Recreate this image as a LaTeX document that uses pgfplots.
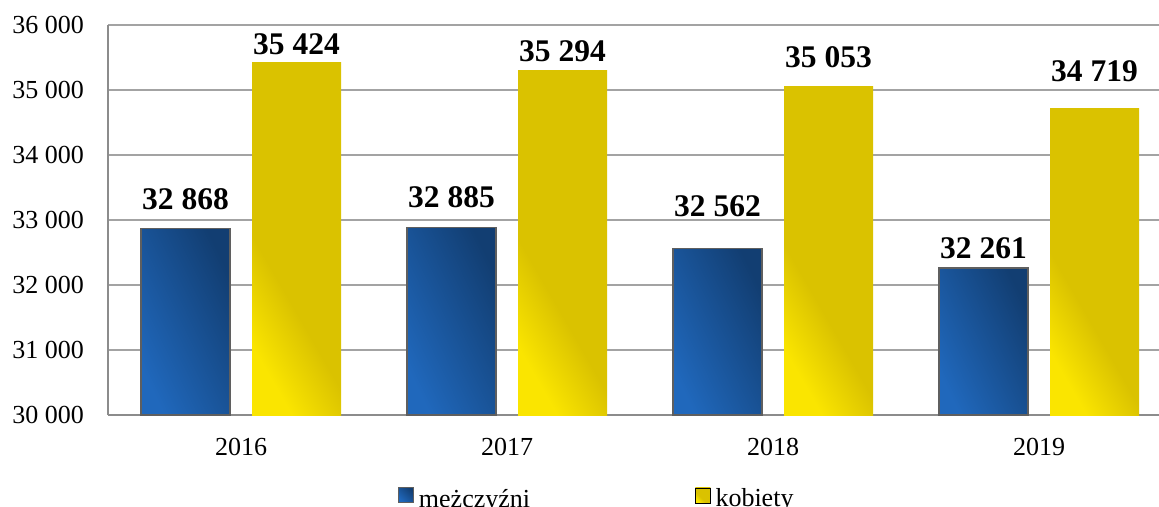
\documentclass[border=0pt]{standalone}
\usepackage{fontspec}
\setmainfont{Liberation Serif}
\usepackage{pgfplots}
\usepackage{pgfplotstable}
\pgfplotsset{compat=1.18}
\definecolor{bluelight}{HTML}{2068BC}
\definecolor{bluedark}{HTML}{123E72}
\definecolor{yellight}{HTML}{FAE500}
\definecolor{yeldark}{HTML}{DAC200}
\definecolor{gridgray}{HTML}{A3A3A3}
\definecolor{axisgray}{HTML}{8C8C8C}
\definecolor{bordergray}{HTML}{5F5F5F}

\pgfdeclareverticalshading{yelsh}{100bp}{color(0bp)=(yeldark); color(60bp)=(yeldark); color(75bp)=(yellight); color(100bp)=(yellight)}
\pgfdeclareverticalshading{blush}{100bp}{color(0bp)=(bluedark); color(25bp)=(bluedark); color(75bp)=(bluelight); color(100bp)=(bluelight)}

\pgfplotstableread{
x y dy
0 32868 19
1 32885 20
2 32562 32
3 32261 10
}\men
\pgfplotstableread{
x y dy
0 35424 8
1 35294 9
2 35053 19
3 34719 27
}\women

\pgfkeys{/pgf/number format/.cd,1000 sep={\ },assume math mode=true}

\begin{document}
\begin{tikzpicture}
\useasboundingbox (0,0) rectangle (1159pt,506pt);
\begin{axis}[
  at={(108pt,91pt)}, anchor=south west,
  scale only axis, width=1051pt, height=390pt,
  xmin=-0.5, xmax=3.451, ymin=0, ymax=6000,
  ytick={0,1000,2000,3000,4000,5000,6000},
  scaled y ticks=false,
  yticklabels={\textrm{30 000},\textrm{31 000},\textrm{32 000},\textrm{33 000},\textrm{34 000},\textrm{35 000},\textrm{36 000}},
  xtick={0,1,2,3}, xticklabels={2016,2017,2018,2019},
  axis x line*=bottom, axis y line*=left,
  axis line style={draw=axisgray, line width=1.3pt},
  ymajorgrids, grid style={draw=gridgray, line width=1.3pt},
  major tick length=0pt,
  tick label style={font=\fontsize{26}{30}\selectfont},
  yticklabel style={anchor=east, inner sep=0pt, xshift=-24pt},
  xticklabel style={anchor=north, inner sep=0pt, yshift=-23pt},
  legend style={draw=none, fill=none, inner sep=0pt,
    at={(0.2759,-0.2454)}, anchor=south west,
    font=\fontsize{26}{30}\selectfont,
    /tikz/every even column/.append style={column sep=163pt}},
  legend columns=2,
  menbar/.style={ybar, bar width=89pt, bar shift=-55.5pt,
    shading=blush, shading angle=116,
    draw=bordergray, line width=1.5pt},
  wombar/.style={ybar, bar width=89pt, bar shift=55.5pt,
    shading=yelsh, shading angle=120, draw=none},
  labels/.style={nodes near coords, point meta=explicit,
    visualization depends on={\thisrow{dy} \as \dy},
    every node near coord/.append style={anchor=base, inner sep=0pt,
      yshift=\dy pt, xshift=#1, text=black,
      font=\bfseries\fontsize{31.5}{36}\selectfont}},
]
\pgfplotsinvokeforeach{0,1,2,3}{
  \addplot[menbar, labels=-55.5pt, forget plot, x filter/.expression={abs(x-#1)<0.1 ? x : nan}]
    table[x=x, y expr=\thisrow{y}-30000, meta=y] {\men};
  \addplot[wombar, labels=55.5pt, forget plot, x filter/.expression={abs(x-#1)<0.1 ? x : nan}]
    table[x=x, y expr=\thisrow{y}-30000, meta=y] {\women};
}
\addlegendimage{legend image code/.code={\path[shading=blush,shading angle=135,draw=bordergray,line width=1.2pt] (0pt,-4pt) rectangle (15pt,11pt); \path (18pt,0pt);}}
\addlegendentry{mężczyźni}
\addlegendimage{legend image code/.code={\path[shading=yelsh,shading angle=135] (0pt,-4pt) rectangle (15pt,11pt); \path (18pt,0pt);}}
\addlegendentry{kobiety}
\end{axis}
\end{tikzpicture}
\end{document}
